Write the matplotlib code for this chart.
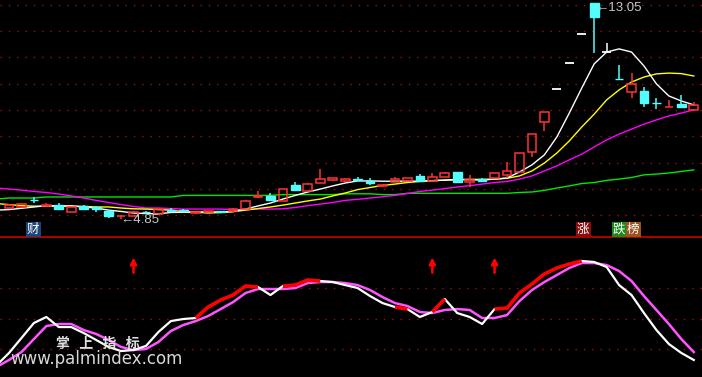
import numpy as np
import matplotlib
matplotlib.use("Agg")
import matplotlib.pyplot as plt
from matplotlib.patches import Rectangle

# daily candles (index 0..55)
opens = [5.27, 5.31, 5.57, 5.36, 5.38, 5.12, 5.35, 5.29, 5.16, 4.95,
         4.97, 5.12, 5.04, 5.19, 5.19, 5.08, 5.12, 5.14, 5.16, 5.23,
         5.69, 5.73, 5.54, 6.14, 5.92, 6.22, 6.33, 6.30, 6.37, 6.30,
         6.12, 6.26, 6.30, 6.49, 6.30, 6.45, 6.64, 6.26, 6.37, 6.41,
         6.52, 6.64, 7.40, 8.54, 9.80, 10.78, 11.89, 13.05, 11.20, 10.19,
         9.68, 9.72, 9.27, 9.11, 9.22, 9.00]
highs = [5.42, 5.46, 5.69, 5.46, 5.46, 5.31, 5.38, 5.35, 5.19, 5.00,
         5.16, 5.16, 5.27, 5.27, 5.23, 5.12, 5.16, 5.16, 5.27, 5.57,
         5.92, 5.84, 5.99, 6.26, 6.22, 6.75, 6.41, 6.41, 6.45, 6.41,
         6.18, 6.45, 6.41, 6.56, 6.60, 6.64, 6.64, 6.52, 6.41, 6.60,
         7.02, 7.36, 8.08, 8.92, 9.80, 10.78, 11.89, 13.05, 11.55, 10.71,
         10.40, 9.87, 9.45, 9.38, 9.57, 9.30]
lows = [5.23, 5.31, 5.46, 5.35, 5.19, 5.12, 5.23, 5.12, 4.89, 4.85,
        4.97, 5.04, 5.04, 5.12, 5.16, 5.04, 5.10, 5.10, 5.12, 5.23,
        5.65, 5.54, 5.54, 5.95, 5.92, 6.22, 6.30, 6.26, 6.33, 6.14,
        6.07, 6.26, 6.30, 6.30, 6.30, 6.45, 6.22, 6.07, 6.30, 6.41,
        6.41, 6.64, 7.21, 8.20, 9.80, 10.78, 11.89, 11.16, 11.20, 10.18,
        9.45, 9.11, 9.04, 9.11, 9.07, 9.00]
closes = [5.38, 5.42, 5.56, 5.40, 5.23, 5.31, 5.23, 5.25, 4.97, 4.97,
          5.12, 5.10, 5.23, 5.17, 5.17, 5.10, 5.14, 5.12, 5.23, 5.54,
          5.73, 5.57, 5.99, 5.95, 6.18, 6.37, 6.41, 6.37, 6.33, 6.22,
          6.16, 6.37, 6.41, 6.30, 6.45, 6.60, 6.26, 6.33, 6.30, 6.60,
          6.68, 7.36, 8.08, 8.92, 9.80, 10.78, 11.89, 12.53, 11.20, 10.18,
          9.99, 9.26, 9.26, 9.12, 9.11, 9.19]

# moving averages, index -1..55
ma_white = [5.19, 5.21, 5.26, 5.31, 5.36, 5.35, 5.35, 5.31, 5.27, 5.19,
            5.14, 5.08, 5.06, 5.05, 5.10, 5.11, 5.12, 5.12, 5.12, 5.14,
            5.23, 5.35, 5.46, 5.61, 5.75, 5.88, 5.99, 6.11, 6.22, 6.30,
            6.30, 6.29, 6.29, 6.29, 6.29, 6.31, 6.33, 6.35, 6.35, 6.33,
            6.37, 6.41, 6.64, 6.91, 7.29, 7.97, 8.88, 9.83, 10.75, 11.20,
            11.32, 11.20, 10.67, 9.99, 9.53, 9.34, 9.19]
ma_yellow = [5.44, 5.40, 5.36, 5.34, 5.34, 5.34, 5.34, 5.33, 5.31, 5.31,
             5.27, 5.24, 5.23, 5.21, 5.19, 5.13, 5.11, 5.08, 5.10, 5.13,
             5.19, 5.25, 5.31, 5.38, 5.46, 5.54, 5.61, 5.73, 5.84, 5.97,
             6.05, 6.13, 6.18, 6.24, 6.28, 6.31, 6.33, 6.35, 6.36, 6.36,
             6.37, 6.40, 6.49, 6.68, 6.98, 7.36, 7.82, 8.35, 8.84, 9.38,
             9.76, 10.06, 10.25, 10.37, 10.40, 10.38, 10.29]
ma_magenta = [6.03, 5.99, 5.95, 5.90, 5.86, 5.80, 5.73, 5.65, 5.56, 5.48,
              5.40, 5.33, 5.27, 5.27, 5.25, 5.23, 5.23, 5.23, 5.23, 5.21,
              5.21, 5.23, 5.23, 5.24, 5.29, 5.36, 5.42, 5.48, 5.56, 5.60,
              5.65, 5.70, 5.75, 5.82, 5.90, 5.95, 6.01, 6.07, 6.12, 6.18,
              6.24, 6.28, 6.37, 6.49, 6.68, 6.87, 7.10, 7.32, 7.59, 7.86,
              8.08, 8.27, 8.46, 8.62, 8.77, 8.88, 9.00]
ma_green = [5.61, 5.65, 5.65, 5.65, 5.69, 5.69, 5.69, 5.69, 5.69, 5.69,
            5.69, 5.69, 5.69, 5.69, 5.69, 5.75, 5.75, 5.75, 5.75, 5.75,
            5.75, 5.75, 5.75, 5.78, 5.78, 5.78, 5.78, 5.78, 5.81, 5.81,
            5.81, 5.78, 5.78, 5.83, 5.83, 5.83, 5.83, 5.83, 5.83, 5.83,
            5.83, 5.83, 5.86, 5.88, 5.94, 6.03, 6.11, 6.20, 6.24, 6.32,
            6.37, 6.43, 6.53, 6.56, 6.60, 6.66, 6.72]

# lower indicator, index -1..55
ind_fast = [4.0, 16.1, 30.8, 45.6, 51.5, 41.6, 41.6, 35.7, 28.9, 22.0,
            18.0, 19.0, 23.0, 36.7, 47.5, 49.5, 50.5, 61.3, 68.2, 73.1,
            82.0, 81.0, 73.1, 82.0, 82.9, 87.9, 86.9, 85.9, 82.9, 80.0,
            72.1, 65.2, 61.3, 59.3, 51.5, 56.4, 69.2, 55.4, 51.5, 44.6,
            59.3, 60.3, 75.1, 83.9, 93.8, 99.7, 103.6, 106.6, 105.6, 100.7,
            82.9, 73.1, 55.4, 38.7, 24.9, 16.1, 9.2]
ind_slow = [2.3, 9.2, 17.0, 29.8, 42.6, 44.6, 44.6, 38.7, 34.8, 28.9,
            22.0, 19.0, 20.0, 26.9, 37.7, 43.6, 47.5, 52.5, 59.3, 66.2,
            75.1, 79.0, 79.0, 79.0, 80.0, 84.9, 85.9, 85.9, 84.9, 82.9,
            78.0, 71.1, 65.2, 62.3, 56.4, 55.4, 58.4, 59.3, 58.4, 50.5,
            50.5, 53.4, 67.2, 78.0, 85.9, 92.8, 99.7, 104.6, 104.6, 102.6,
            96.7, 86.9, 72.1, 58.4, 44.6, 29.8, 17.0]
red_spans = [(15, 20), (22, 25), (31, 32), (34, 35), (39, 46)]
buy_days = [10, 34, 39]

price_grid = [5, 6, 7, 8, 9, 10, 11, 12, 13]
ind_grid = [20, 50, 80]

RED = "#ff3232"
CYAN = "#54fcfc"
GRID = "#a01010"

W, H = 702, 377
split = 237
fig = plt.figure(figsize=(W / 100, H / 100), dpi=100, facecolor="black")
ax = fig.add_axes([0, 1 - split / H, 1, split / H])
ax2 = fig.add_axes([0, 0, 1, 1 - split / H])
for a in (ax, ax2):
    a.set_facecolor("black")
    a.set_axis_off()
    a.set_xlim(-0.723, 55.66)
ax.set_ylim(4.168, 13.179)
ax2.set_ylim(-7.54, 130.2)

for g in price_grid:
    ax.axhline(g, color=GRID, lw=1, ls=(0, (1, 5)), zorder=0)
for g in ind_grid:
    ax2.axhline(g, color=GRID, lw=1, ls=(0, (1, 5)), zorder=0)
ax2.axhline(130.2, color="#b00000", lw=1.4, zorder=5, clip_on=False)

mx = np.arange(-1, len(closes))
ax.plot(mx, ma_green, color="#00e600", lw=1.0, zorder=2)
ax.plot(mx, ma_magenta, color="#ff00ff", lw=1.0, zorder=2)
ax.plot(mx, ma_yellow, color="#ffff00", lw=1.0, zorder=2)
ax.plot(mx, ma_white, color="white", lw=1.0, zorder=2)

bw = 0.7
for i, (o, h, l, c) in enumerate(zip(opens, highs, lows, closes)):
    if c > o:
        ax.add_patch(Rectangle((i - bw / 2, o), bw, c - o, fill=False,
                               edgecolor=RED, lw=1.1, zorder=3))
        ax.vlines(i, c, h, color=RED, lw=1.1, zorder=3)
        ax.vlines(i, l, o, color=RED, lw=1.1, zorder=3)
    elif c < o:
        ax.add_patch(Rectangle((i - bw / 2, c), bw, o - c, facecolor=CYAN,
                               edgecolor=CYAN, lw=1.0, zorder=3))
        ax.vlines(i, l, h, color=CYAN, lw=1.1, zorder=3)
    else:
        ax.hlines(o, i - bw / 2, i + bw / 2, color="white", lw=1.3, zorder=3)
        ax.vlines(i, l, h, color="white", lw=1.1, zorder=3)

lo_i = int(np.argmin(lows))
hi_i = int(np.argmax(highs))
fam = ["Liberation Sans", "DejaVu Sans"]
ax.text(lo_i - 0.05, lows[lo_i] - 0.04, "\u2190" + f"{lows[lo_i]:.2f}",
        color="#c8c8c8", fontsize=9.5, family=fam, ha="left", va="center", zorder=6)
ax.text(hi_i + 0.1, highs[hi_i] - 0.17, "\u2190" + f"{highs[hi_i]:.2f}",
        color="#c8c8c8", fontsize=9.5, family=fam, ha="left", va="center", zorder=6)

# lower indicator
ax2.plot(mx, ind_slow, color="#ff55ff", lw=1.8, zorder=2)
ax2.plot(mx, ind_fast, color="white", lw=1.6, zorder=3)
for s, e in red_spans:
    ax2.plot(mx[s + 1:e + 2], ind_fast[s + 1:e + 2], color="#ff0000", lw=2.6,
             solid_capstyle="butt", zorder=4)
for d in buy_days:
    ax2.annotate("", xy=(d, 110), xytext=(d, 95),
                 arrowprops=dict(arrowstyle="-|>", color="#ff0000", lw=1.8,
                                 mutation_scale=9, shrinkA=0, shrinkB=0))

cjk = ["Noto Sans CJK SC", "DejaVu Sans"]
def tag(x, s, bg):
    fig.text(x / W, 1 - 229.5 / H, s, color="white", fontsize=9, family=cjk,
             ha="left", va="center",
             bbox=dict(boxstyle="square,pad=0.08", fc=bg, ec="none"))
tag(27, "财", "#1c4677")
tag(577, "涨", "#8a0d0d")
tag(613, "跌", "#1a8a1a")
tag(627, "榜", "#9a5420")

fig.text(56 / W, 1 - 344 / H, "掌   上   指   标", color="#e0e0e0", fontsize=10,
         family=cjk, fontweight="bold", ha="left", va="center")
fig.text(10 / W, 1 - 359 / H, "www.palmindex.com", color="#d8d8d8", fontsize=12,
         family=["DejaVu Sans"], ha="left", va="center")

fig.savefig("out.png", dpi=100, facecolor="black")
